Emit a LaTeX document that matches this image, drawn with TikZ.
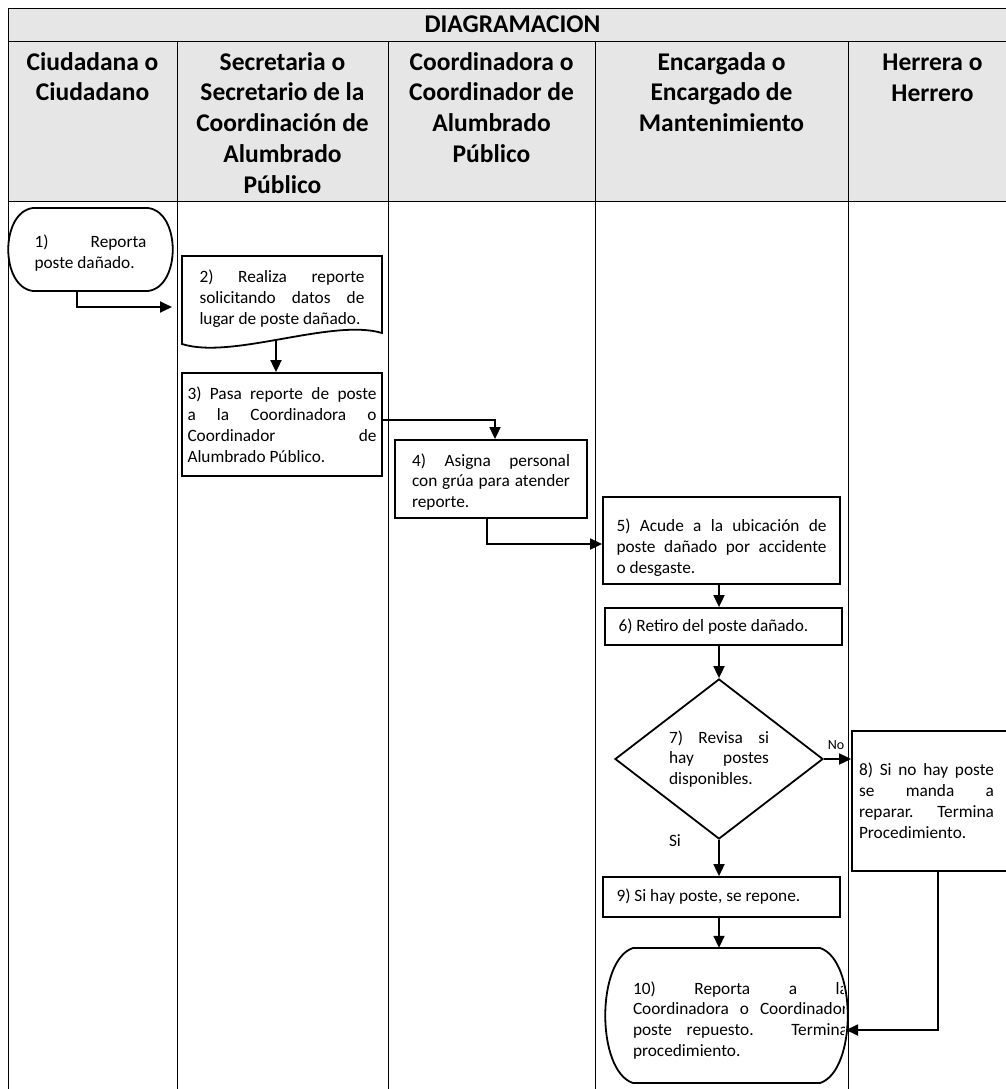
\documentclass[tikz,border=0pt]{standalone}
\usepackage{fontspec}
\setmainfont{Carlito}
\usetikzlibrary{arrows.meta,shapes.geometric}
\definecolor{hdr}{RGB}{230,230,230}
\newcommand\bodyf{\fontsize{17.3}{20.9}\selectfont}
\newcommand\headf{\fontsize{25.5}{30.8}\selectfont\bfseries}
\begin{document}
\begin{tikzpicture}[x=1pt,y=-1pt,
  grid/.style={line width=0.9pt},
  proc/.style={draw, line width=1.8pt, rectangle, inner sep=0pt, font=\bodyf},
  txt/.style={inner sep=0pt, font=\bodyf},
  arr/.style={line width=1.8pt, -{Triangle[length=12pt,width=11pt]}},
  outl/.style={line width=1.8pt},
  head/.style={anchor=north, align=center, font=\headf, inner sep=0pt}]
\useasboundingbox (0,0) rectangle (1006,1089);
\clip (0,0) rectangle (1006,1089);
% table
\fill[hdr] (8,8) rectangle (1020,201);
\draw[grid] (8,8) -- (1020,8) (8,41) -- (1020,41) (8,201) -- (1020,201);
\draw[grid] (8,8) -- (8,1095) (177,41) -- (177,1095) (388,41) -- (388,1095)
  (595,41) -- (595,1095) (848,41) -- (848,1095);
\node[font=\headf, inner sep=0pt] (h0) at (512.5,24.5) {DIAGRAMACION};
\node[head] (h1) at (92.5,52) {Ciudadana o\\Ciudadano};
\node[head] (h2) at (282.5,52) {Secretaria o\\Secretario de la\\Coordinación de\\Alumbrado\\Público};
\node[head] (h3) at (491.5,52) {Coordinadora o\\Coordinador de\\Alumbrado\\Público};
\node[head] (h4) at (721.5,52) {Encargada o\\Encargado de\\Mantenimiento};
\node[head] (h5) at (932.5,53.5) {Herrera o\\Herrero};
% 1
\node[txt, minimum width=165pt, minimum height=83pt] (n1) at (90.5,249.5)
  {\parbox{112pt}{\vspace*{8pt}1) Reporta\linebreak poste dañado.}};
\draw[outl] (33,208) -- (148,208) .. controls (181,212) and (181,287) .. (148,291)
  -- (33,291) .. controls (0,287) and (0,212) .. (33,208) -- cycle;
% 2
\node[txt, minimum width=200pt, minimum height=86pt] (n2) at (282,299)
  {\parbox{165pt}{2) Realiza reporte\linebreak solicitando datos de\linebreak lugar de poste dañado.}};
\draw[outl] (182,256) -- (382,256) -- (382,333) .. controls (332,318) and (232,360) .. (182,344) -- cycle;
% 3
\node[proc, minimum width=200pt, minimum height=103pt] (n3) at (282,424.5)
  {\parbox{189pt}{3) Pasa reporte de poste\linebreak a la Coordinadora o\linebreak Coordinador de\linebreak Alumbrado Público.}};
% 4
\node[proc, minimum width=192pt, minimum height=78pt] (n4) at (491,479)
  {\parbox{158pt}{\vspace*{6pt}4) Asigna personal\linebreak con grúa para atender\linebreak reporte.}};
% 5
\node[proc, minimum width=237pt, minimum height=87pt] (n5) at (721.5,540.5)
  {\parbox{210pt}{\vspace*{14pt}5) Acude a la ubicación de\linebreak poste dañado por accidente\linebreak o desgaste.}};
% 6
\node[proc, minimum width=237pt, minimum height=37pt] (n6) at (723.5,626.5)
  {\parbox{210pt}{6) Retiro del poste dañado.}};
% 7
\node[draw, diamond, line width=1.8pt, minimum width=208pt, minimum height=160pt, inner sep=0pt, font=\bodyf] (n7) at (719,759)
  {\parbox{100pt}{7) Revisa si\linebreak hay postes\linebreak disponibles.}};
% 8
\node[proc, minimum width=165pt, minimum height=140pt] (n8) at (934.5,801)
  {\parbox{135pt}{8) Si no hay poste\linebreak se manda a\linebreak reparar. Termina\linebreak Procedimiento.}\hspace*{16pt}};
% 9
\node[proc, minimum width=237pt, minimum height=40pt] (n9) at (721.5,897)
  {\parbox{210pt}{9) Si hay poste, se repone.}};
% 10
\begin{scope}
\clip (633,948) -- (820,948) .. controls (853,960) and (853,1071) .. (820,1083)
  -- (633,1083) .. controls (598,1071) and (598,960) .. (633,948) -- cycle;
\node[txt, minimum width=243pt, minimum height=135pt] (n10) at (726.5,1015.5)
  {\hspace*{25pt}\parbox{215pt}{\vspace*{10pt}10) Reporta a la\linebreak Coordinadora o Coordinador\linebreak poste repuesto. Termina\linebreak procedimiento.}\hspace*{-3pt}};
\end{scope}
\draw[outl] (633,948) -- (820,948) .. controls (857,960) and (857,1071) .. (820,1083)
  -- (633,1083) .. controls (596,1071) and (596,960) .. (633,948) -- cycle;
% labels
\node[font=\fontsize{14}{16}\selectfont, inner sep=0pt] (lno) at (836,745) {No};
\node[font=\bodyf, inner sep=0pt] (lsi) at (675,841) {Si};
% connectors
\coordinate (t1) at (172,307);
\draw[arr] ([xshift=-13.5pt]n1.south) |- (t1);
\coordinate (n2b) at (276,340);
\draw[arr] (n2b) -- (n2b |- n3.north);
\draw[arr] ([yshift=4.5pt]n3.east) -| ([xshift=4pt]n4.north);
\draw[arr] ([xshift=-4pt]n4.south) |- ([yshift=-3.5pt]n5.west);
\draw[arr] (n5.south -| n7.north) -- (n6.north -| n7.north);
\draw[arr] (n6.south -| n7.north) -- (n7.north);
\draw[arr] (n7.east) -- (n7.east -| n8.west);
\draw[arr] (n7.south) -- (n7.south |- n9.north);
\draw[arr] (n9.south -| n7.south) -- (n10.north -| n7.south);
\coordinate (n10e) at (846,1030);
\draw[arr] ([xshift=3.5pt]n8.south) |- (n10e);
\end{tikzpicture}
\end{document}
